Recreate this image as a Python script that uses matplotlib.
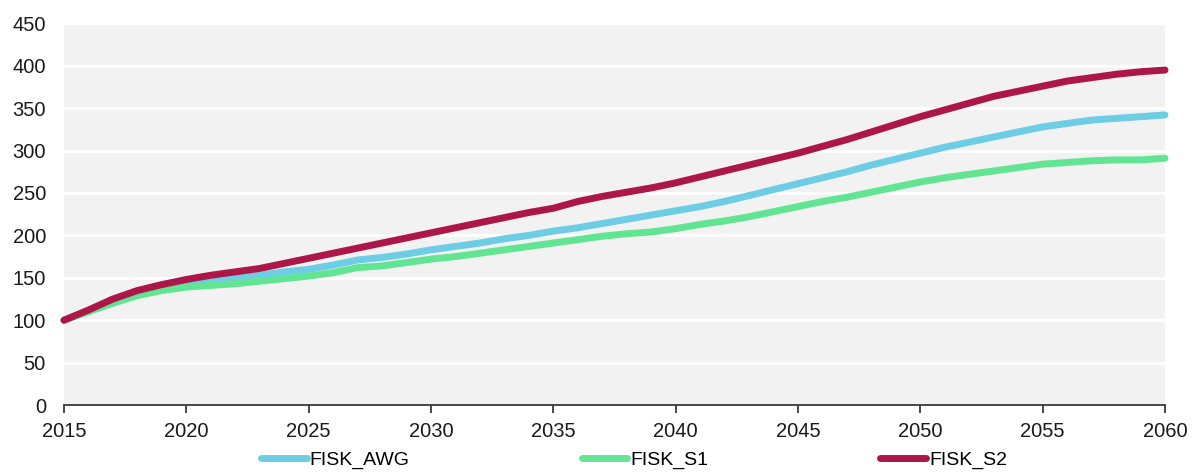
import matplotlib
matplotlib.use("Agg")
import matplotlib.pyplot as plt
import numpy as np

years = list(range(2015, 2061))

fisk_awg = [100, 111, 122, 131, 138, 143, 147, 150, 153, 157,
            160, 165, 171, 174, 178, 183, 187, 191, 196, 200,
            205, 209, 214, 219, 224, 229, 234, 240, 247, 254,
            261, 268, 275, 283, 290, 297, 304, 310, 316, 322,
            328, 332, 336, 338, 340, 342]

fisk_s1 = [100, 110, 120, 129, 135, 139, 141, 143, 146, 149,
           152, 156, 162, 164, 168, 172, 175, 179, 183, 187,
           191, 195, 199, 202, 204, 208, 213, 217, 222, 228,
           234, 240, 245, 251, 257, 263, 268, 272, 276, 280,
           284, 286, 288, 289, 289, 291]

fisk_s2 = [100, 112, 125, 135, 142, 148, 153, 157, 161, 167,
           173, 179, 185, 191, 197, 203, 209, 215, 221, 227,
           232, 240, 246, 251, 256, 262, 269, 276, 283, 290,
           297, 305, 313, 322, 331, 340, 348, 356, 364, 370,
           376, 382, 386, 390, 393, 395]

series_names = ["FISK_AWG", "FISK_S1", "FISK_S2"]
series_colors = ["#6DCDE5", "#62E592", "#AC1649"]

x_ticks = list(range(2015, 2061, 5))
y_ticks = list(range(0, 451, 50))

plt.rcParams['font.family'] = ['Liberation Sans', 'DejaVu Sans']

fig = plt.figure(figsize=(12.01, 4.73), dpi=100)
ax = fig.add_axes([64 / 1201, 1 - 405 / 473, (1165 - 64) / 1201, (405 - 23.4) / 473])
ax.set_facecolor("#F2F2F2")

for name, vals, col in zip(series_names, [fisk_awg, fisk_s1, fisk_s2], series_colors):
    ax.plot(years, vals, color=col, lw=5.0, label=name,
            solid_capstyle="round", solid_joinstyle="round", zorder=3, clip_on=False)

ax.set_xlim(2015, 2060)
ax.set_ylim(0, 450)
ax.set_xticks(x_ticks)
ax.set_yticks(y_ticks)
ax.yaxis.grid(True, color="white", lw=2)
ax.set_axisbelow(True)

for side in ["left", "right", "top"]:
    ax.spines[side].set_visible(False)
ax.spines["bottom"].set_color("#3A3A3A")
ax.spines["bottom"].set_linewidth(1.3)

ax.tick_params(axis="x", length=6, width=1.3, color="#3A3A3A", pad=6,
               labelsize=14.5, labelcolor="#1A1A1A")
ax.tick_params(axis="y", length=0, pad=13, labelsize=14.5, labelcolor="#1A1A1A")

fig.legend(loc="center", bbox_to_anchor=(634 / 1201, 1 - 460 / 473), ncol=3,
           frameon=False, fontsize=14, handlelength=2.35, handletextpad=0.15,
           columnspacing=8.85)

fig.savefig("out.png", dpi=100)
